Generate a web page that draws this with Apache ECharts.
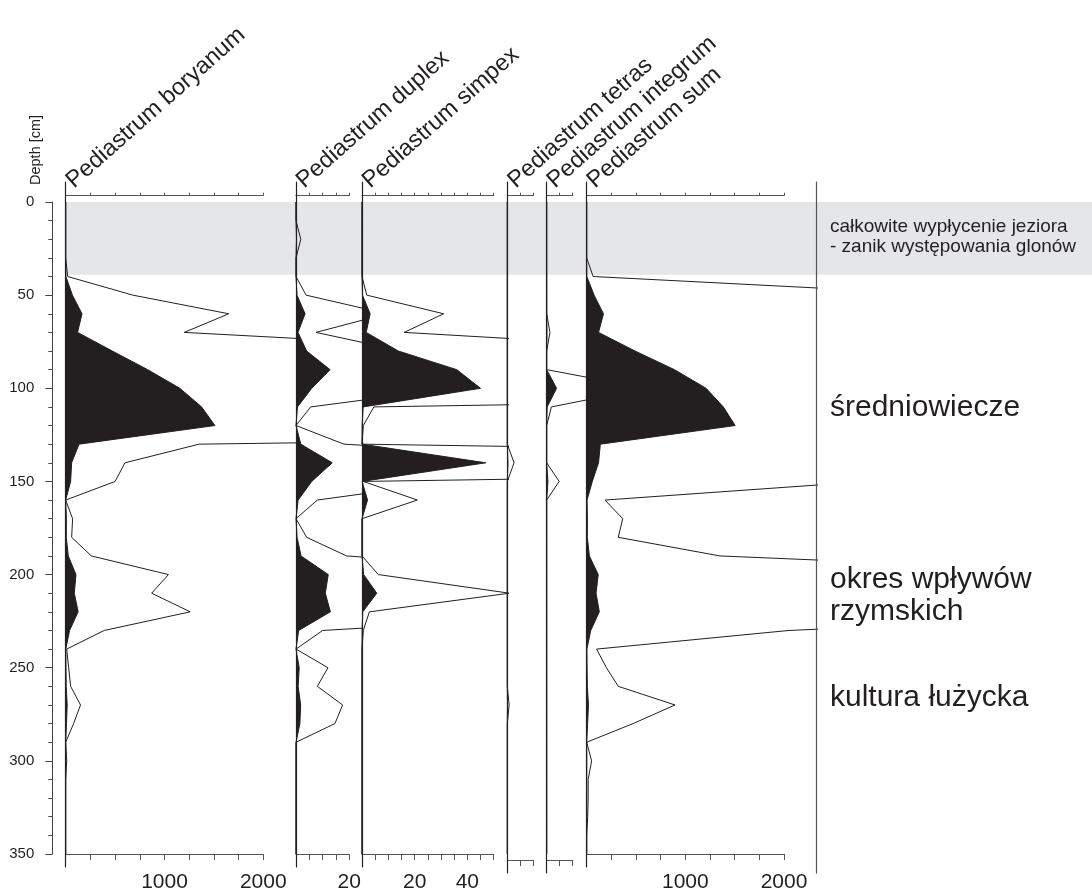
<!DOCTYPE html>
<html><head><meta charset="utf-8">
<script src="https://cdn.jsdelivr.net/npm/echarts@6/dist/echarts.min.js"></script>
<style>html,body{margin:0;padding:0;background:#fff}#c{width:1092px;height:893px}</style>
</head><body><div id="c"></div>
<script>
// ---- data (depth in cm, counts) ----
const depths = [0,10,20,30,40,50,60,70,80,90,100,110,120,130,140,150,160,170,180,190,200,210,220,230,240,250,260,270,280,290,300,310,320,330,340,350];
const boryanum = [0,0,0,0,2,68,165,120,472,830,1155,1376,1510,135,60,50,0,7,6,26,104,87,126,39,1,3,5,15,8,0,1,0,0,0,0,0];
const duplex   = [0,0,0.18,0,0,0.38,3.4,0.75,4.0,12.8,5.9,0.55,0,1.8,13.6,5.9,0.8,0,0.4,1.9,12.1,11,12.9,1.0,0,1.2,0.8,1.75,1.46,0,0,0,0,0,0,0];
const simpex   = [0,0,0,0,0,0.18,3.1,1.6,13.8,36,45,0.45,0.05,0,47,0.05,2.1,0,0,0,0.62,5.6,0.28,0.05,0,0,0,0,0,0,0,0,0,0,0,0];
const tetras   = [0,0,0,0,0,0,0,0,0,0,0,0,0,0,0.26,0,0,0,0,0,0,0,0,0,0,0,0,0.07,0,0,0,0,0,0,0,0];
const integrum = [0,0,0,0,0,0,0,0.125,0,0,3.8,0.18,0,0,0,0.48,0,0,0,0,0,0,0,0,0,0,0,0,0,0,0,0,0,0,0,0];
const pSum     = [0,0,0,0,1.3,75,170,120,490,890,1210,1385,1505,138,120,57,3.7,7.3,6.4,27,117,95,128,41,2,4,6.4,17.9,9.4,0,1,0.3,0.3,0.2,0,0];

const taxaNames = ['Pediastrum boryanum','Pediastrum duplex','Pediastrum simpex','Pediastrum tetras','Pediastrum integrum','Pediastrum sum'];
const scaleMax  = [2000, 20, 50, 10, 10, 2000];
const tickStep  = [250, 5, 5, 5, 5, 250];
const tickLabels = [[1000,2000],[20],[20,40],[],[],[1000,2000]];
const exaggeration = [10, 10, 10, 10, 10, 50];

const depthTicks = [0,50,100,150,200,250,300,350];
const band = [0, 39];
const bandNotes = ['całkowite wypłycenie jeziora', '- zanik występowania glonów'];
const zoneNames = [['średniowiecze'], ['okres wpływów','rzymskich'], ['kultura łużycka']];

// ---- layout ----
const INK = '#231f20';
const FONT = '"Liberation Sans", Arial, Helvetica, sans-serif';
const panelX = [65.7, 296, 362, 507.3, 546.7, 586.7];
const panelW = [197.6, 53.3, 131.7, 26, 26, 197.3];
const panelEnd = [296, 362, 507.3, 546.7, 586.7, 816];
const Y0 = 202, YH = 652;          // depth 0 .. 350
const LT = 182, LH = 691;          // vertical lines
const values = [boryanum, duplex, simpex, tetras, integrum, pSum];

const grid = [], xAxis = [], yAxis = [], seriesList = [], graphic = [];
function addGrid(g){ grid.push(g); return grid.length-1; }

// band (grey)
let gi = addGrid({left: 65.7, right: 0, top: Y0, height: YH});
xAxis.push({gridIndex: gi, type:'value', min:0, max:1, show:false});
yAxis.push({gridIndex: gi, type:'value', min:0, max:350, inverse:true, show:false});
seriesList.push({type:'line', xAxisIndex: xAxis.length-1, yAxisIndex: yAxis.length-1, data:[[0,0]], symbol:'none', lineStyle:{opacity:0}, silent:true, z:-10,
  markArea:{silent:true, z:-10, itemStyle:{color:'#e5e6e8'}, data:[[{yAxis: band[0]},{yAxis: band[1]}]]}});

// depth axis
gi = addGrid({left: 52.3, width: 1, top: Y0, height: YH});
xAxis.push({gridIndex: gi, type:'value', show:false});
yAxis.push({gridIndex: gi, type:'value', min:0, max:350, interval:50, inverse:true, position:'left',
  axisLine:{show:true, lineStyle:{color:'#444', width:1}},
  axisTick:{show:true, length:7, lineStyle:{color:'#444'}},
  minorTick:{show:true, splitNumber:5, length:4, lineStyle:{color:'#444'}},
  axisLabel:{fontSize:15, color:INK, fontFamily:FONT, margin:18, formatter: v => depthTicks.includes(v) ? String(v) : ''},
  splitLine:{show:false}});

taxaNames.forEach((name, p) => {
  const x0 = panelX[p], w = panelW[p];
  // axes grid
  const ga = addGrid({left: x0, width: w, top: LT, height: LH});
  yAxis.push({gridIndex: ga, type:'value', min:0, max:1, position:'left', z:5,
    axisLine:{show:true, lineStyle:{color:INK, width:1.2}}, axisTick:{show:false}, axisLabel:{show:false}, splitLine:{show:false}});
  xAxis.push({gridIndex: ga, type:'value', min:0, max:scaleMax[p], interval:tickStep[p], position:'top', offset:-(195.7-LT),
    axisLine:{show:true, onZero:false, lineStyle:{color:'#555', width:1.2}}, axisTick:{show:true, inside:false, length:3, lineStyle:{color:'#555'}},
    axisLabel:{show:false}, splitLine:{show:false}});
  xAxis.push({gridIndex: ga, type:'value', min:0, max:scaleMax[p], interval:tickStep[p], position:'bottom', offset:-(LT+LH-860),
    axisLine:{show:true, onZero:false, lineStyle:{color:'#555', width:1.2}}, axisTick:{show:true, inside:false, length:6, lineStyle:{color:'#555'}},
    axisLabel:{show:true, fontSize:21, color:INK, fontFamily:FONT, margin:18, showMinLabel:true, showMaxLabel:true,
      formatter: v => tickLabels[p].includes(v) ? String(v) : ''}, splitLine:{show:false}});
  // data grid (extends to next panel to let exaggerated curve run until clipped)
  const gd = addGrid({left: x0, width: panelEnd[p]-x0, top: Y0, height: YH});
  xAxis.push({gridIndex: gd, type:'value', min:0, max: scaleMax[p]*(panelEnd[p]-x0)/w, show:false});
  yAxis.push({gridIndex: gd, type:'category', data: depths.map(String), inverse:true, boundaryGap:false, show:false});
  const xi = xAxis.length-1, yi = yAxis.length-1;
  seriesList.push({type:'line', name: name, xAxisIndex: xi, yAxisIndex: yi, clip:true, symbol:'none', z:3,
    data: values[p].map((v,i)=>[v, String(depths[i])]),
    lineStyle:{color:INK, width:1}, areaStyle:{color:INK, opacity:1}, silent:true});
  seriesList.push({type:'line', name: name+' x'+exaggeration[p], xAxisIndex: xi, yAxisIndex: yi, clip:true, symbol:'none', z:4,
    data: values[p].map((v,i)=>[v*exaggeration[p], String(depths[i])]),
    lineStyle:{color:INK, width:1}, silent:true});
  // rotated taxon title
  graphic.push({type:'text', x: x0+12, y: 193, rotation: 41.5*Math.PI/180, z:100,
    style:{text: name, font: '23.5px ' + FONT, fill: INK, textAlign:'left', textVerticalAlign:'bottom'}});
});

// right boundary line
gi = addGrid({left: 816, width: 1, top: LT, height: LH});
xAxis.push({gridIndex: gi, type:'value', show:false});
yAxis.push({gridIndex: gi, type:'value', min:0, max:1, position:'left', z:5,
  axisLine:{show:true, lineStyle:{color:'#555', width:1.2}}, axisTick:{show:false}, axisLabel:{show:false}, splitLine:{show:false}});

// texts
graphic.push({type:'text', x: 43, y: 185, rotation: Math.PI/2, z:100,
  style:{text:'Depth [cm]', font:'14.5px '+FONT, fill: INK, textAlign:'left', textVerticalAlign:'bottom'}});
bandNotes.forEach((t,i)=> graphic.push({type:'text', x: 830, y: 227 + i*20, z:100,
  style:{text:t, font:'19px '+FONT, fill: INK, textAlign:'left', textVerticalAlign:'middle'}}));
const zy = [[408],[580,612],[698]];
zoneNames.forEach((lines, z)=> lines.forEach((t,i)=> graphic.push({type:'text', x: 830, y: zy[z][i], z:100,
  style:{text:t, font:'30px '+FONT, fill: INK, textAlign:'left', textVerticalAlign:'middle'}})));

const chart = echarts.init(document.getElementById('c'), null, {renderer:'canvas'});
chart.setOption({animation:false, backgroundColor:'#fff', grid, xAxis, yAxis, series: seriesList, graphic});
</script></body></html>
